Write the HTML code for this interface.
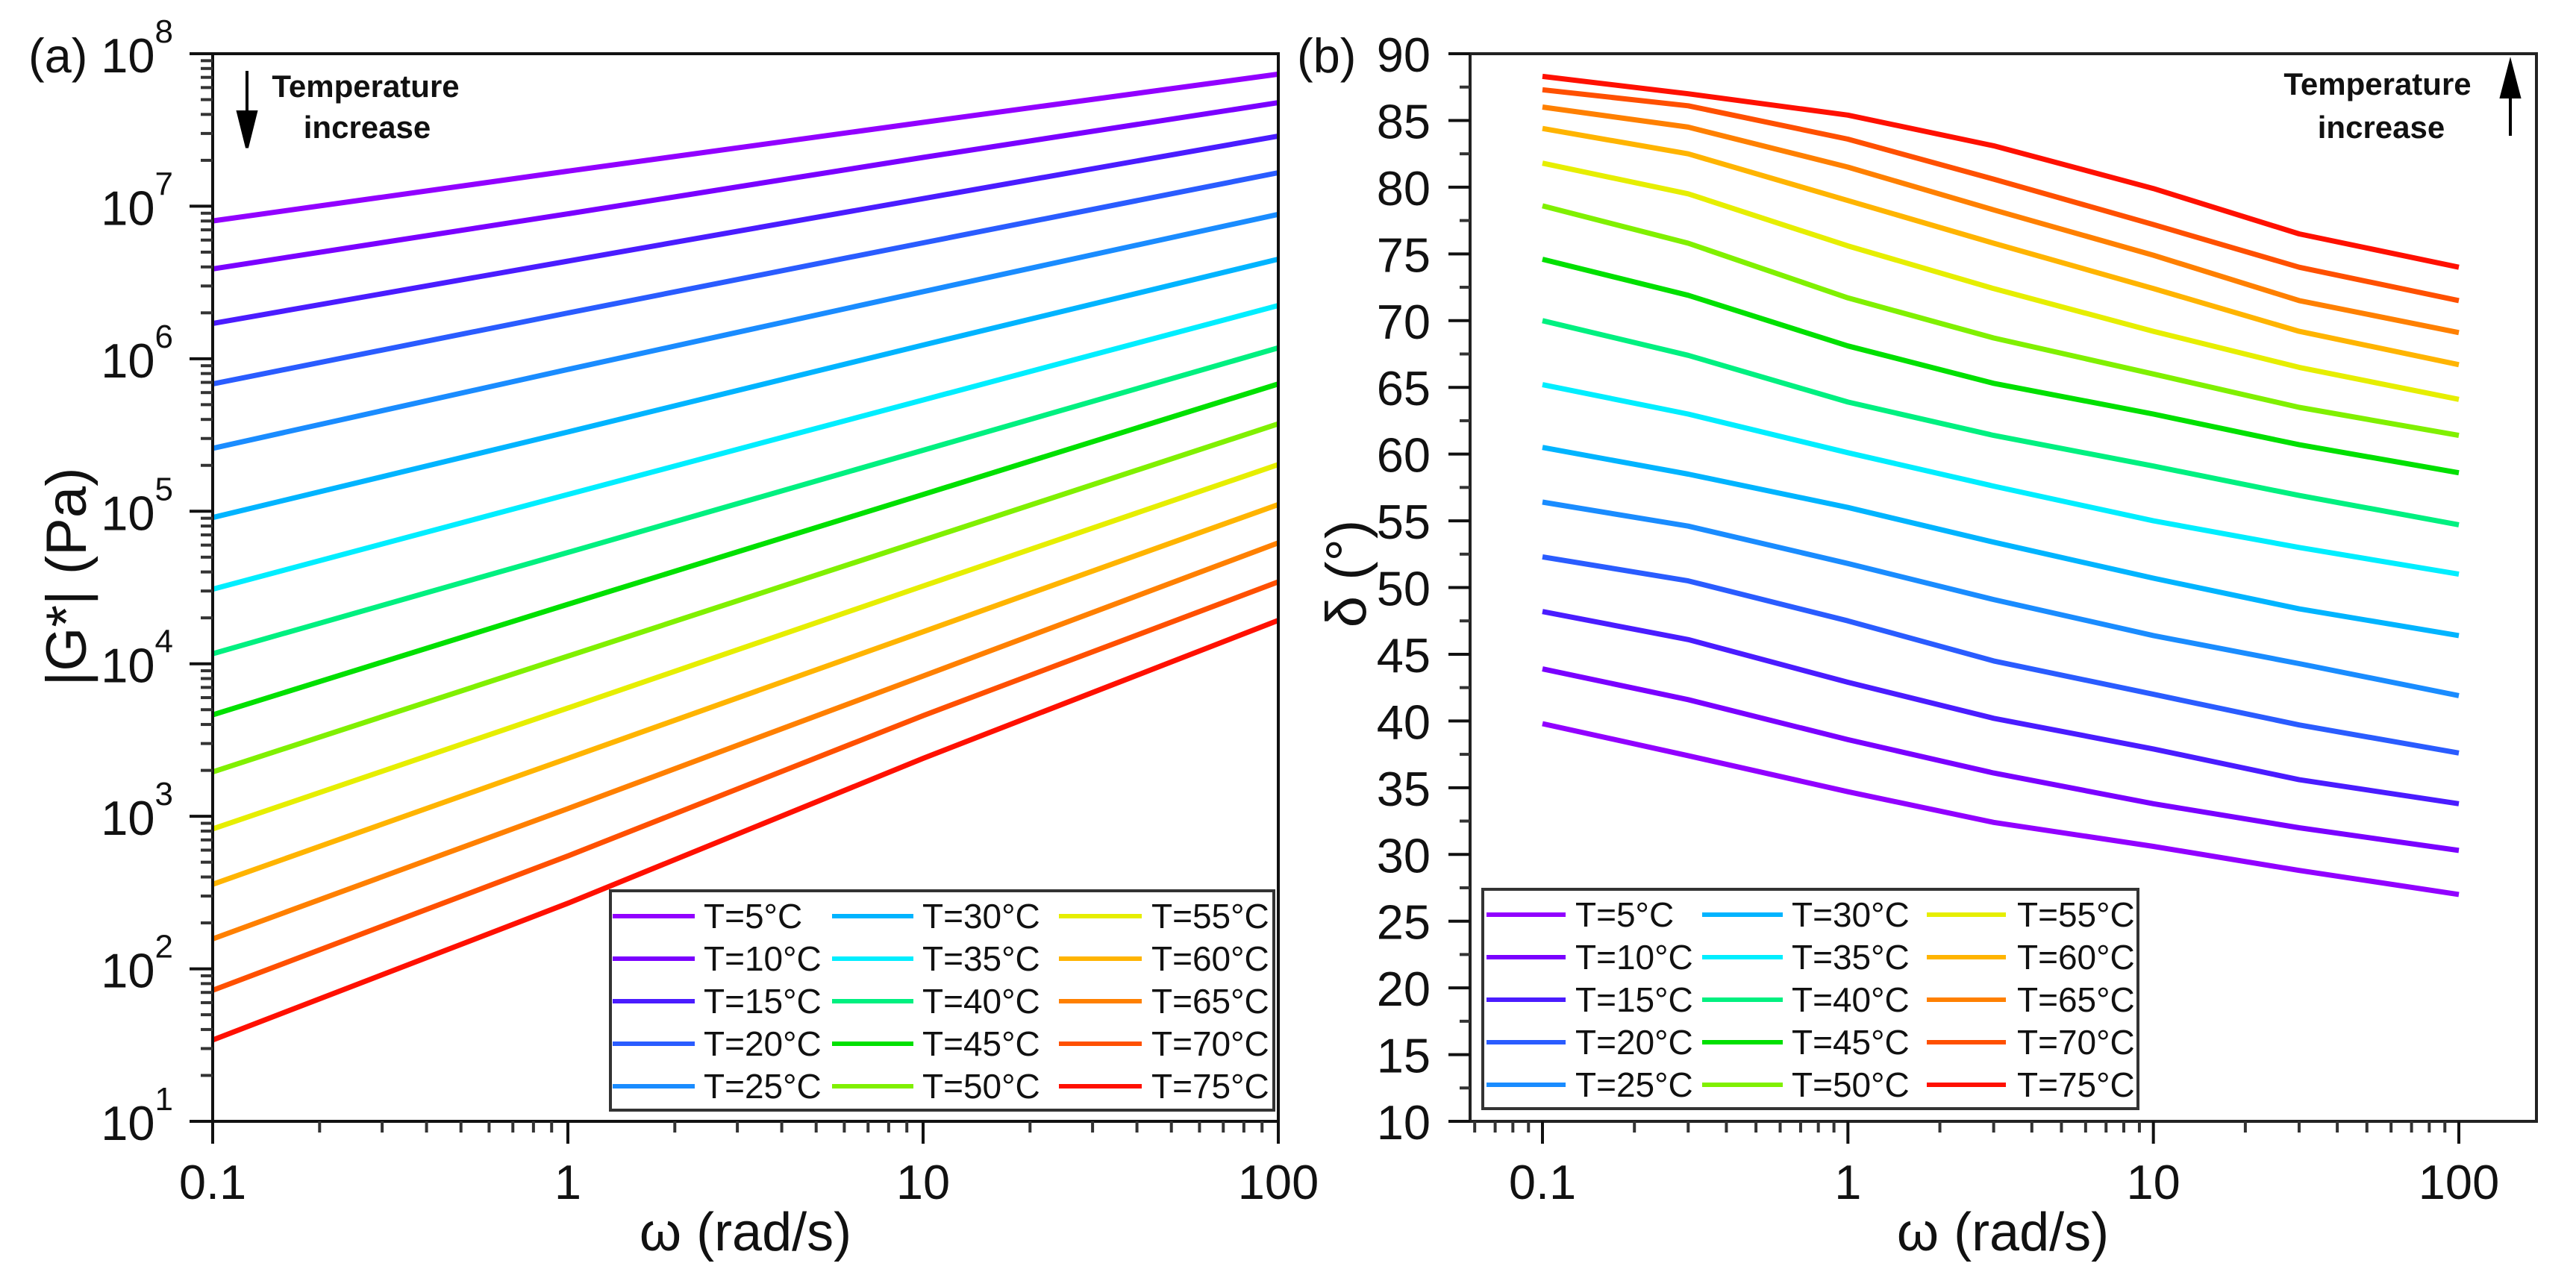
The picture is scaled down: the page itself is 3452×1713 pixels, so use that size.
<!DOCTYPE html>
<html><head><meta charset="utf-8"><style>
html,body{margin:0;padding:0;background:#fff;}
svg{display:block;font-family:"Liberation Sans",sans-serif;}
</style></head><body>
<svg id="fig" xmlns="http://www.w3.org/2000/svg" width="3452" height="1713" viewBox="0 0 3452 1713"></svg>
<script>
// shared
const tempLabels = ["T=5°C","T=10°C","T=15°C","T=20°C","T=25°C","T=30°C","T=35°C","T=40°C","T=45°C","T=50°C","T=55°C","T=60°C","T=65°C","T=70°C","T=75°C"];
const seriesColors = ["#9200ff","#7a00ff","#4a1cff","#2a5cff","#1a8cff","#00b4ff","#00eeff","#00f080","#00e000","#80f000","#e6ee00","#ffb400","#ff8000","#ff5000","#ff1000"];
// panel a: log10 |G*| at omega values
const omegaA = [0.1, 1, 10, 100];
const logGA = [
 [6.904,7.23,7.55,7.866],[6.589,6.95,7.32,7.679],[6.231,6.64,7.05,7.460],[5.835,6.30,6.76,7.220],
 [5.413,5.93,6.44,6.947],[4.959,5.52,6.09,6.653],[4.489,5.11,5.73,6.349],[4.066,4.73,5.40,6.071],
 [3.665,4.39,5.11,5.835],[3.291,4.05,4.81,5.573],[2.917,3.71,4.51,5.306],[2.554,3.38,4.21,5.044],
 [2.196,3.05,3.92,4.793],[1.859,2.74,3.66,4.537],[1.533,2.43,3.38,4.285]];
const yTicksA = [1,2,3,4,5,6,7,8];
const xTicksA = [0.1,1,10,100];
const xTickLabelsA = ["0.1","1","10","100"];
// panel b: delta (deg)
const omegaB = [0.1, 0.3, 1, 3, 10, 30, 100];
const deltaB = [
 [39.8,37.4,34.7,32.4,30.6,28.8,27.0],
 [43.9,41.6,38.6,36.1,33.8,32.0,30.3],
 [48.2,46.1,42.9,40.2,37.9,35.6,33.8],
 [52.3,50.5,47.5,44.5,42.0,39.7,37.6],
 [56.4,54.6,51.8,49.1,46.4,44.3,41.9],
 [60.5,58.5,56.0,53.4,50.7,48.4,46.4],
 [65.2,63.0,60.1,57.6,55.0,53.0,51.0],
 [70.0,67.4,63.9,61.4,59.1,56.9,54.7],
 [74.6,71.9,68.1,65.3,63.0,60.7,58.6],
 [78.6,75.8,71.7,68.7,66.0,63.5,61.4],
 [81.8,79.5,75.6,72.4,69.2,66.5,64.1],
 [84.4,82.5,79.0,75.8,72.4,69.2,66.7],
 [86.0,84.5,81.5,78.3,74.9,71.5,69.1],
 [87.3,86.1,83.6,80.6,77.2,74.0,71.5],
 [88.3,87.0,85.4,83.1,79.9,76.5,74.0]];
const yTicksB = [10,15,20,25,30,35,40,45,50,55,60,65,70,75,80,85,90];
const xTicksB = [0.1,1,10,100];
const xTickLabelsB = ["0.1","1","10","100"];

const NS="http://www.w3.org/2000/svg";
const svg=document.getElementById('fig');
function mk(tag,attrs,parent){const e=document.createElementNS(NS,tag);for(const k in attrs)e.setAttribute(k,attrs[k]);(parent||svg).appendChild(e);return e;}

// scales
const A={l:285,r:1713,t:72,b:1503};
const xA=v=>A.l+(Math.log10(v)-(-1))*(A.r-A.l)/3;
const yA=lg=>A.b-(lg-1)*(A.b-A.t)/7;
const B={l:1970,r:3399,t:72,b:1503};
const x0B=2067,x1B=3295;
const xB=v=>x0B+(Math.log10(v)+1)*(x1B-x0B)/3;
const yB=v=>B.b-(v-10)*(B.b-B.t)/80;

function drawPanel(P,name){
  const g=mk('g',{});
  
  
  return g;
}
// ===== Panel A =====
const gA=drawPanel(A,'panel-a-modulus');
for(let i=0;i<logGA.length;i++){
  const pts=omegaA.map((w,j)=>xA(w).toFixed(1)+','+yA(logGA[i][j]).toFixed(1)).join(' ');
  const pl=mk('polyline',{points:pts,fill:'none',stroke:seriesColors[i],'stroke-width':7,'stroke-linejoin':'round'},gA);
  
  
}
const frameA=mk('rect',{x:A.l,y:A.t,width:A.r-A.l,height:A.b-A.t,fill:'none',stroke:'#111','stroke-width':4},gA);


for(const d of yTicksA){
  const y=yA(d);
  const t=mk('line',{x1:A.l-31,x2:A.l,y1:y,y2:y,stroke:'#111','stroke-width':4},gA);
  
  
  const tx=mk('text',{x:A.l-53,y:y+25,'font-size':65,'text-anchor':'end',fill:'#111'},gA);
  
  
  tx.textContent='10';
  const sup=mk('tspan',{dy:-40,'font-size':44},tx);
  sup.textContent=String(d);
  if(d<8){for(let m=2;m<=9;m++){const ym=yA(d+Math.log10(m));
    const mt=mk('line',{x1:A.l-16,x2:A.l,y1:ym,y2:ym,stroke:'#333','stroke-width':4},gA);
    
    }}
}
xTicksA.forEach((v,i)=>{
  const x=xA(v);
  const t=mk('line',{x1:x,x2:x,y1:A.b,y2:A.b+30,stroke:'#111','stroke-width':4},gA);
  
  
  const tx=mk('text',{x:x,y:1607,'font-size':65,'text-anchor':'middle',fill:'#111'},gA);
  
  
  tx.textContent=xTickLabelsA[i];
  if(i<3){for(let m=2;m<=9;m++){const xm=xA(v*m);
    const mt=mk('line',{x1:xm,x2:xm,y1:A.b,y2:A.b+15,stroke:'#333','stroke-width':4},gA);
    
    }}
});
// ===== Panel B =====
const gB=drawPanel(B,'panel-b-phase-angle');
for(let i=0;i<deltaB.length;i++){
  const pts=omegaB.map((w,j)=>xB(w).toFixed(1)+','+yB(deltaB[i][j]).toFixed(1)).join(' ');
  const pl=mk('polyline',{points:pts,fill:'none',stroke:seriesColors[i],'stroke-width':7,'stroke-linejoin':'round'},gB);
  
  
}
const frameB=mk('rect',{x:B.l,y:B.t,width:B.r-B.l,height:B.b-B.t,fill:'none',stroke:'#222','stroke-width':4},gB);


yTicksB.forEach((v,i)=>{
  const y=yB(v);
  const t=mk('line',{x1:B.l-29,x2:B.l,y1:y,y2:y,stroke:'#111','stroke-width':4},gB);
  
  
  const tx=mk('text',{x:1917,y:y+24,'font-size':65,'text-anchor':'end',fill:'#111'},gB);
  
  
  tx.textContent=String(v);
  if(i<yTicksB.length-1){const ym=yB(v+2.5);
    const mt=mk('line',{x1:B.l-14,x2:B.l,y1:ym,y2:ym,stroke:'#333','stroke-width':4},gB);
    
    }
});
xTicksB.forEach((v,i)=>{
  const x=xB(v);
  const t=mk('line',{x1:x,x2:x,y1:B.b,y2:B.b+30,stroke:'#111','stroke-width':4},gB);
  
  
  const tx=mk('text',{x:x,y:1607,'font-size':65,'text-anchor':'middle',fill:'#111'},gB);
  
  
  tx.textContent=xTickLabelsB[i];
});
for(const base of [0.01,0.1,1,10,100]){for(let m=2;m<=9;m++){const v=base*m;const xm=xB(v);
  if(xm<=B.l+2||xm>=B.r-2)continue;
  const mt=mk('line',{x1:xm,x2:xm,y1:B.b,y2:B.b+15,stroke:'#333','stroke-width':4},gB);
  
  }}

// ===== Legends =====
function legend(g,box,lineX,textX,name){
  const r=mk('rect',{x:box[0],y:box[1],width:box[2]-box[0],height:box[3]-box[1],fill:'#fff',stroke:'#333','stroke-width':4},g);
  
  
  for(let i=0;i<15;i++){
    const c=Math.floor(i/5),row=i%5;const y=box[1]+34+row*57;
    const l=mk('line',{x1:lineX[c][0],x2:lineX[c][1],y1:y,y2:y,stroke:seriesColors[i],'stroke-width':6},g);
    
    
    const t=mk('text',{x:textX[c],y:y+16,'font-size':46,fill:'#111'},g);
    
    
    t.textContent=tempLabels[i];
  }
}
legend(gA,[818,1194,1707,1488],[[821,931],[1115,1224],[1419,1530]],[943,1236,1543],'legend-a');
legend(gB,[1987,1192,2865,1486],[[1992,2098],[2281,2389],[2582,2688]],[2111,2401,2703],'legend-b');

// ===== Labels =====
function txt(x,y,s,size,name,extra){const t=mk('text',Object.assign({x:x,y:y,'font-size':size,fill:'#111'},extra||{}));
  
  
  t.textContent=s;return t;}
txt(38,97,'(a)',65,'panel-label-a');
txt(1738,97,'(b)',65,'panel-label-b');
txt(999,1676,'ω (rad/s)',72,'x-axis-title-a',{'text-anchor':'middle'});
txt(2684,1676,'ω (rad/s)',72,'x-axis-title-b',{'text-anchor':'middle'});
txt(115,773,'|G*| (Pa)',76,'y-axis-title-a',{'text-anchor':'middle',transform:'rotate(-90 115 773)'});
txt(1830,769,'δ (°)',76,'y-axis-title-b',{'text-anchor':'middle',transform:'rotate(-90 1830 769)'});
txt(490,130,'Temperature',42,'annotation-temperature-a',{'text-anchor':'middle','font-weight':'bold'});
txt(492,185,'increase',42,'annotation-increase-a',{'text-anchor':'middle','font-weight':'bold'});
txt(3186,127,'Temperature',42,'annotation-temperature-b',{'text-anchor':'middle','font-weight':'bold'});
txt(3191,185,'increase',42,'annotation-increase-b',{'text-anchor':'middle','font-weight':'bold'});
const arA=mk('path',{d:'M331 95 L331 160 M319 150 L343 150 L331 198 Z',stroke:'#000','stroke-width':4,fill:'#000'});


const arB=mk('path',{d:'M3364 182 L3364 120 M3352 130 L3376 130 L3364 84 Z',stroke:'#000','stroke-width':4,fill:'#000'});


</script>
</body></html>
